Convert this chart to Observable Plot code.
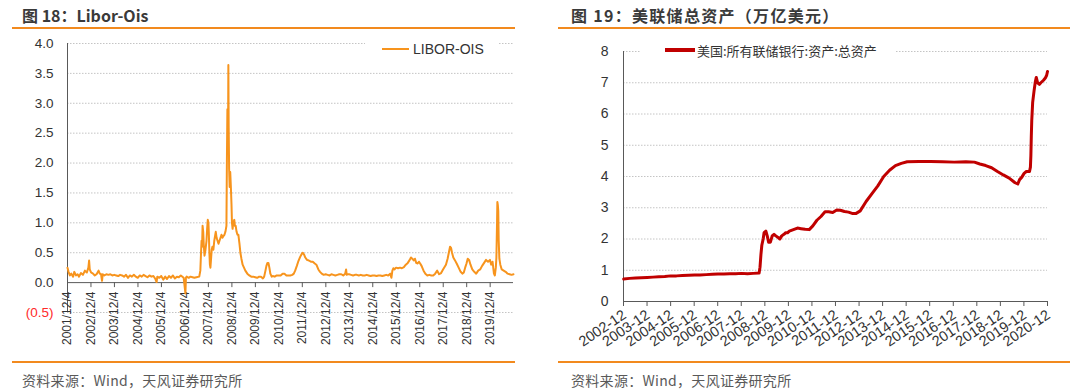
<!DOCTYPE html>
<html><head><meta charset="utf-8">
<script src="https://cdn.jsdelivr.net/npm/d3@7"></script>
<script src="https://cdn.jsdelivr.net/npm/@observablehq/plot@0.6"></script>
<style>
html,body{margin:0;padding:0;background:#fff;}
body{width:1080px;height:392px;position:relative;overflow:hidden;font-family:"Liberation Sans",Arial,sans-serif;}
.title{position:absolute;top:3px;height:20px;line-height:20px;font:bold 16px "Noto Sans CJK SC",sans-serif;color:#3a3a3a;white-space:nowrap;}
.rule{position:absolute;height:2px;background:#F28A1E;}
.src{position:absolute;top:370px;height:20px;line-height:20px;font:14px "Noto Sans CJK SC",sans-serif;color:#595959;white-space:nowrap;letter-spacing:0.3px;}
.chart{position:absolute;top:30px;}
.legend{position:absolute;background:#fff;display:flex;align-items:center;white-space:nowrap;color:#333;}
</style></head>
<body>
<div class="title" style="left:22px">图 18：Libor-Ois</div>
<div class="title" style="left:571px;letter-spacing:1.3px">图 19：美联储总资产（万亿美元）</div>
<div class="rule" style="left:12px;width:503px;top:27px"></div>
<div class="rule" style="left:558px;width:512px;top:27px"></div>
<div id="left" class="chart" style="left:0px"></div>
<div id="right" class="chart" style="left:540px"></div>
<div class="legend" style="left:365px;top:38px;width:133px;height:22px;font:14px 'Liberation Sans',Arial,sans-serif;">
  <span style="display:inline-block;margin-left:17px;width:27px;height:2px;background:#F7941D"></span>
  <span style="margin-left:4px">LIBOR-OIS</span>
</div>
<div class="legend" style="left:640px;top:40px;width:255px;height:20px;font:13px 'Noto Sans CJK SC',sans-serif;">
  <span style="display:inline-block;margin-left:25px;width:30px;height:4px;background:#C00000"></span>
  <span style="margin-left:2px">美国:所有联储银行:资产:总资产</span>
</div>
<div class="rule" style="left:12px;width:503px;top:361px"></div>
<div class="rule" style="left:558px;width:512px;top:361px"></div>
<div class="src" style="left:22px">资料来源：Wind，天风证券研究所</div>
<div class="src" style="left:571px">资料来源：Wind，天风证券研究所</div>
<script>
// ---------- Data: LIBOR-OIS ----------
const liborDates = [
"2001-12-04","2001-12-20","2002-01-10","2002-02-01","2002-03-01","2002-03-20","2002-04-15","2002-05-10","2002-06-01","2002-07-01",
"2002-08-01","2002-09-01","2002-10-01","2002-10-25","2002-11-05","2002-11-15","2002-12-05","2003-01-05","2003-02-01","2003-03-01",
"2003-04-01","2003-04-20","2003-05-10","2003-05-25","2003-06-05","2003-07-01","2003-08-01","2003-09-01","2003-10-01","2003-11-01",
"2003-12-01","2004-01-01","2004-02-01","2004-03-01","2004-04-01","2004-05-01","2004-06-01","2004-07-01","2004-08-01","2004-09-01",
"2004-10-01","2004-11-01","2004-12-01","2005-01-01","2005-02-01","2005-03-01","2005-04-01","2005-05-01","2005-06-01","2005-07-01",
"2005-08-01","2005-09-01","2005-09-20","2005-10-01","2005-11-01","2005-12-01","2006-01-01","2006-02-01","2006-03-01","2006-04-01",
"2006-05-01","2006-06-01","2006-07-01","2006-08-01","2006-09-01","2006-10-01","2006-11-15","2006-12-12","2006-12-20","2007-01-01",
"2007-02-01","2007-03-01","2007-04-01","2007-05-01","2007-06-01","2007-07-15","2007-08-01","2007-08-10","2007-08-20","2007-08-28",
"2007-09-05","2007-09-15","2007-09-25","2007-10-05","2007-10-20","2007-11-05","2007-11-15","2007-11-25","2007-12-05","2007-12-12",
"2007-12-20","2007-12-28","2008-01-05","2008-01-15","2008-01-25","2008-02-05","2008-02-20","2008-03-05","2008-03-20","2008-03-28",
"2008-04-10","2008-04-25","2008-05-10","2008-05-25","2008-06-10","2008-06-25","2008-07-10","2008-07-25","2008-08-10","2008-08-25",
"2008-09-10","2008-09-17","2008-09-25","2008-10-05","2008-10-10","2008-10-15","2008-10-22","2008-10-30","2008-11-08","2008-11-18",
"2008-11-28","2008-12-05","2008-12-15","2008-12-25","2009-01-10","2009-01-20","2009-02-01","2009-02-15","2009-03-01","2009-03-15",
"2009-04-01","2009-04-15","2009-05-01","2009-05-20","2009-06-10","2009-07-01","2009-08-01","2009-09-01","2009-10-01","2009-11-01",
"2009-12-01","2010-01-01","2010-02-01","2010-03-01","2010-04-01","2010-04-20","2010-05-10","2010-05-25","2010-06-10","2010-06-25",
"2010-07-10","2010-07-25","2010-08-15","2010-09-01","2010-10-01","2010-11-01","2010-12-01","2011-01-01","2011-02-01","2011-03-01",
"2011-04-01","2011-05-01","2011-06-01","2011-07-01","2011-07-25","2011-08-15","2011-09-10","2011-10-01","2011-11-01","2011-11-25",
"2011-12-10","2012-01-01","2012-01-20","2012-02-15","2012-03-15","2012-04-15","2012-05-15","2012-06-15","2012-07-10","2012-08-10",
"2012-09-05","2012-10-01","2012-11-01","2012-12-01","2013-01-01","2013-02-01","2013-03-01","2013-04-01","2013-05-01","2013-06-01",
"2013-07-01","2013-08-01","2013-09-01","2013-10-01","2013-10-15","2013-10-25","2013-11-01","2013-12-01","2014-01-01","2014-02-01",
"2014-03-01","2014-04-01","2014-05-01","2014-06-01","2014-07-01","2014-08-01","2014-09-01","2014-10-01","2014-11-01","2014-12-01",
"2015-01-01","2015-02-01","2015-03-01","2015-04-01","2015-05-01","2015-06-01","2015-07-01","2015-08-01","2015-09-01","2015-09-20",
"2015-10-05","2015-10-20","2015-11-05","2015-12-01","2016-01-01","2016-02-01","2016-03-01","2016-04-01","2016-05-01","2016-06-01",
"2016-07-01","2016-07-20","2016-08-10","2016-09-01","2016-09-20","2016-10-10","2016-11-01","2016-11-20","2016-12-10","2017-01-01",
"2017-02-01","2017-03-01","2017-04-01","2017-05-01","2017-06-01","2017-07-01","2017-08-01","2017-09-01","2017-10-01","2017-11-01",
"2017-12-01","2018-01-15","2018-02-10","2018-03-01","2018-03-20","2018-04-05","2018-04-20","2018-05-10","2018-06-01","2018-07-01",
"2018-08-01","2018-09-01","2018-10-01","2018-10-20","2018-11-10","2018-12-01","2018-12-20","2019-01-10","2019-02-01","2019-03-01",
"2019-04-01","2019-05-01","2019-06-01","2019-07-01","2019-08-01","2019-09-01","2019-10-01","2019-11-01","2019-12-01","2019-12-20",
"2020-01-10","2020-02-01","2020-02-15","2020-03-01","2020-03-10","2020-03-20","2020-03-25","2020-04-01","2020-04-08","2020-04-15",
"2020-04-25","2020-05-10","2020-06-01","2020-07-01","2020-08-01","2020-09-01","2020-10-01","2020-11-01","2020-12-01"];
const liborValues = [
0.25,0.18,0.12,0.15,0.10,0.18,0.12,0.14,0.10,0.16,
0.13,0.20,0.17,0.25,0.37,0.22,0.17,0.15,0.12,0.14,
0.20,0.15,0.14,0.03,0.14,0.12,0.14,0.13,0.14,0.12,
0.13,0.12,0.11,0.13,0.12,0.10,0.13,0.08,0.12,0.10,
0.13,0.10,0.08,0.12,0.10,0.13,0.11,0.09,0.12,0.10,
0.11,0.06,0.01,0.10,0.08,0.11,0.05,0.10,0.06,0.11,
0.08,0.12,0.07,0.10,0.09,0.12,0.08,-0.18,0.08,0.10,
0.08,0.10,0.09,0.08,0.09,0.10,0.20,0.45,0.70,0.60,
0.95,0.85,0.60,0.45,0.55,0.70,0.90,1.05,1.00,0.80,
0.50,0.30,0.25,0.40,0.55,0.60,0.55,0.70,0.80,0.85,
0.75,0.70,0.65,0.70,0.75,0.80,0.75,0.78,0.80,0.85,
0.95,2.00,2.90,2.40,3.64,2.60,1.90,1.60,1.85,1.60,
1.30,1.00,0.90,1.00,1.05,0.95,0.95,0.85,0.80,0.80,
0.65,0.50,0.40,0.30,0.25,0.20,0.15,0.12,0.10,0.10,
0.09,0.08,0.10,0.10,0.07,0.10,0.20,0.28,0.33,0.33,
0.25,0.15,0.10,0.11,0.10,0.12,0.12,0.12,0.15,0.15,
0.12,0.12,0.12,0.13,0.15,0.20,0.28,0.35,0.43,0.48,
0.50,0.47,0.42,0.38,0.37,0.35,0.35,0.32,0.30,0.22,
0.18,0.15,0.13,0.14,0.13,0.12,0.14,0.13,0.12,0.13,
0.14,0.14,0.12,0.15,0.22,0.13,0.14,0.14,0.13,0.12,
0.13,0.13,0.12,0.13,0.12,0.12,0.13,0.12,0.11,0.12,
0.12,0.11,0.12,0.12,0.11,0.12,0.13,0.12,0.15,0.08,
0.20,0.24,0.22,0.25,0.24,0.25,0.24,0.26,0.30,0.33,
0.38,0.42,0.40,0.37,0.40,0.33,0.32,0.35,0.32,0.28,
0.20,0.15,0.12,0.13,0.12,0.12,0.15,0.20,0.14,0.16,
0.22,0.30,0.40,0.50,0.60,0.58,0.50,0.42,0.38,0.32,
0.25,0.18,0.15,0.17,0.25,0.32,0.40,0.38,0.30,0.22,
0.18,0.15,0.20,0.22,0.28,0.33,0.38,0.35,0.38,0.30,
0.35,0.15,0.12,0.25,0.42,1.00,1.35,1.30,1.20,0.70,
0.40,0.30,0.22,0.20,0.18,0.15,0.14,0.13,0.14];
const liborTickLabels = ["2001/12/4","2002/12/4","2003/12/4","2004/12/4","2005/12/4","2006/12/4","2007/12/4","2008/12/4","2009/12/4","2010/12/4",
"2011/12/4","2012/12/4","2013/12/4","2014/12/4","2015/12/4","2016/12/4","2017/12/4","2018/12/4","2019/12/4"];
const liborYTicks = [-0.5,0,0.5,1,1.5,2,2.5,3,3.5,4];

// ---------- Data: Fed total assets (trillion USD) ----------
const fedDates = [
"2002-12-04","2003-03-05","2003-06-04","2003-09-03","2003-12-03","2004-03-03","2004-06-02","2004-09-01","2004-12-01","2005-03-02",
"2005-06-01","2005-09-07","2005-12-07","2006-03-01","2006-06-07","2006-09-06","2006-12-06","2007-03-07","2007-06-06","2007-09-05",
"2007-12-05","2008-03-05","2008-06-04","2008-09-03","2008-09-17","2008-10-01","2008-10-15","2008-11-05","2008-11-19","2008-12-17",
"2009-01-07","2009-01-28","2009-02-25","2009-03-25","2009-04-22","2009-05-20","2009-06-24","2009-07-22","2009-08-19","2009-09-23",
"2009-10-21","2009-11-18","2009-12-16","2010-02-17","2010-04-21","2010-06-16","2010-08-18","2010-10-20","2010-12-15","2011-02-16",
"2011-04-20","2011-06-22","2011-08-17","2011-10-19","2011-12-21","2012-02-15","2012-04-18","2012-06-20","2012-08-15","2012-10-17",
"2012-12-19","2013-03-20","2013-06-19","2013-09-18","2013-12-18","2014-03-19","2014-06-18","2014-09-17","2014-12-17","2015-06-17",
"2015-12-16","2016-06-15","2016-12-14","2017-06-14","2017-10-25","2018-01-17","2018-04-18","2018-07-18","2018-10-17","2019-01-16",
"2019-04-17","2019-07-17","2019-08-28","2019-09-25","2019-10-30","2019-12-04","2020-01-08","2020-02-26","2020-03-11","2020-03-18",
"2020-03-25","2020-04-01","2020-04-15","2020-05-06","2020-05-27","2020-06-10","2020-07-01","2020-07-29","2020-08-19","2020-09-30",
"2020-10-28","2020-11-18","2020-12-01"];
const fedValues = [
0.72,0.74,0.75,0.76,0.77,0.78,0.79,0.80,0.82,0.82,
0.83,0.84,0.85,0.85,0.86,0.87,0.88,0.88,0.89,0.89,
0.90,0.89,0.90,0.91,1.10,1.50,1.80,2.00,2.20,2.25,
2.10,1.90,1.90,2.10,2.15,2.10,2.05,2.00,2.10,2.15,
2.20,2.20,2.25,2.30,2.35,2.33,2.31,2.30,2.42,2.60,
2.72,2.87,2.87,2.85,2.93,2.92,2.88,2.86,2.82,2.82,
2.90,3.20,3.45,3.70,4.00,4.20,4.35,4.42,4.47,4.48,
4.48,4.47,4.46,4.47,4.46,4.40,4.35,4.28,4.16,4.05,
3.95,3.80,3.76,3.90,3.98,4.10,4.16,4.16,4.30,4.66,
5.30,5.80,6.37,6.73,7.04,7.17,7.00,6.95,7.00,7.08,
7.15,7.24,7.36];
const fedTickLabels = ["2002-12","2003-12","2004-12","2005-12","2006-12","2007-12","2008-12","2009-12","2010-12","2011-12",
"2012-12","2013-12","2014-12","2015-12","2016-12","2017-12","2018-12","2019-12","2020-12"];
const fedYTicks = [0,1,2,3,4,5,6,7,8];

// ---------- Build ----------
const axisColor = "#595959", gridColor = "#c4c4c4", textColor = "#333";
const liborData = liborDates.map((d, i) => ({date: new Date(d), value: liborValues[i]}));
const liborTicks = liborTickLabels.map(s => { const [y, m, d] = s.split("/").map(Number); return {label: s, date: new Date(Date.UTC(y, m - 1, d))}; });
const fedData = fedDates.map((d, i) => ({date: new Date(d), value: fedValues[i]}));
const fedTicks = fedTickLabels.map(s => { const [y, m] = s.split("-").map(Number); return {label: s, date: new Date(Date.UTC(y, m - 1, 1))}; });

const xL0 = liborTicks[0].date, xL1 = new Date("2020-12-01");
const left = Plot.plot({
  width: 530, height: 330, marginLeft: 67, marginRight: 17, marginTop: 13, marginBottom: 48,
  x: {type: "utc", domain: [xL0, xL1], axis: null},
  y: {domain: [-0.5, 4], axis: null},
  style: {fontFamily: "'Liberation Sans', Arial, sans-serif", background: "transparent", overflow: "visible"},
  marks: [
    Plot.ruleY(liborYTicks.filter(d => d !== 0), {stroke: gridColor, strokeDasharray: "1.5,1.5"}),
    Plot.ruleX([xL0], {y1: -0.5, y2: 4, stroke: axisColor}),
    Plot.ruleY([0], {stroke: axisColor}),
    Plot.ruleX(liborTicks, {x: "date", y1: 0, y2: 0, insetBottom: -5, stroke: axisColor}),
    Plot.text(liborTicks, {x: "date", y: 0, text: "label", rotate: -90, textAnchor: "end", dy: 9, fill: textColor, fontSize: 12}),
    Plot.text(liborYTicks.filter(d => d >= 0), {y: d => d, frameAnchor: "left", dx: -14, textAnchor: "end", text: d => d.toFixed(1), fill: textColor, fontSize: 13.5}),
    Plot.text(liborYTicks.filter(d => d < 0), {y: d => d, frameAnchor: "left", dx: -14, textAnchor: "end", text: d => "(" + Math.abs(d).toFixed(1) + ")", fill: "#FF2A2A", fontSize: 13.5}),
    Plot.line(liborData, {x: "date", y: "value", stroke: "#F7941D", strokeWidth: 2})
  ]
});
document.getElementById("left").append(left);

const xR0 = fedTicks[0].date, xR1 = fedTicks[fedTicks.length - 1].date;
const right = Plot.plot({
  width: 540, height: 330, marginLeft: 83, marginRight: 33, marginTop: 21, marginBottom: 59,
  x: {type: "utc", domain: [xR0, xR1], axis: null},
  y: {domain: [0, 8], axis: null},
  style: {fontFamily: "'Liberation Sans', Arial, sans-serif", background: "transparent", overflow: "visible"},
  marks: [
    Plot.ruleY(fedYTicks.filter(d => d !== 0), {stroke: gridColor, strokeDasharray: "1.5,1.5"}),
    Plot.ruleX([xR0], {y1: 0, y2: 8, stroke: axisColor}),
    Plot.ruleY([0], {stroke: axisColor}),
    Plot.ruleX(fedTicks, {x: "date", y1: 0, y2: 0, insetBottom: -5, stroke: axisColor}),
    Plot.text(fedTicks, {x: "date", y: 0, text: "label", rotate: -34, textAnchor: "end", dy: 12, dx: 1, fill: textColor, fontSize: 14.5}),
    Plot.text(fedYTicks, {y: d => d, frameAnchor: "left", dx: -15, textAnchor: "end", text: d => String(d), fill: textColor, fontSize: 14}),
    Plot.line(fedData, {x: "date", y: "value", stroke: "#C00000", strokeWidth: 3})
  ]
});
document.getElementById("right").append(right);
</script>
</body></html>
